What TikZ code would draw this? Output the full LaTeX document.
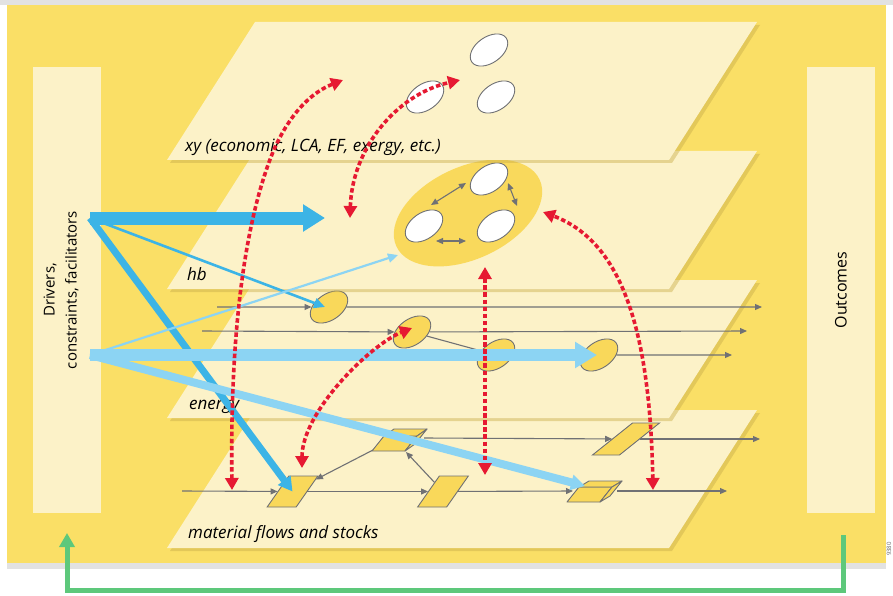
\documentclass[tikz,border=0pt]{standalone}
\usepackage{fontspec}
\setmainfont{Open Sans}
\usetikzlibrary{arrows.meta,shapes.geometric,calc}
\definecolor{bgyellow}{HTML}{FADF66}
\definecolor{cream}{HTML}{FCF2C8}
\definecolor{framegray}{HTML}{E2E2E2}
\definecolor{plateshadow}{HTML}{C9AE4A}
\definecolor{edgegray}{HTML}{707174}
\definecolor{ovalyel}{HTML}{F9D85A}
\definecolor{hbyel}{HTML}{F9D95C}
\definecolor{bluec}{HTML}{3CB4E6}
\definecolor{lblue}{HTML}{8CD4F3}
\definecolor{redc}{HTML}{E61932}
\definecolor{greenc}{HTML}{5DC87B}
\newcommand{\drawplate}[1]{%
  \fill[plateshadow,opacity=0.45] (258,{#1+3}) -- (760,{#1+3}) -- (672,{#1+141}) -- (170,{#1+141}) -- cycle;
  \fill[cream] (255,#1) -- (757,#1) -- (669,{#1+138}) -- (167,{#1+138}) -- cycle;}
\begin{document}
\begin{tikzpicture}[x=1pt,y=-1pt,
  oval/.style={ellipse, draw=edgegray, line width=0.9pt, minimum width=42pt, minimum height=26pt, inner sep=0pt, rotate=35},
  woval/.style={oval, fill=white},
  yoval/.style={oval, fill=ovalyel},
  mpar/.style={draw=edgegray, fill=ovalyel, line width=0.9pt, minimum width=29pt, minimum height=31pt, inner sep=0pt, xslant=0.7},
  boxface/.style={draw=edgegray, fill=ovalyel, line width=0.9pt, line join=round},
  garr/.style={draw=edgegray, line width=1.1pt, -{Triangle[length=7pt,width=6pt]}},
  gdbl/.style={draw=edgegray, line width=1.1pt, {Triangle[length=7pt,width=6pt]}-{Triangle[length=7pt,width=6pt]}},
  gline/.style={draw=edgegray, line width=1.1pt},
  redarr/.style={draw=redc, line width=3.6pt, dash pattern=on 4.5pt off 2.6pt, {Triangle[length=12pt,width=13pt]}-{Triangle[length=12pt,width=13pt]}},
  lbl/.style={font=\fontsize{17}{19}\selectfont\itshape, anchor=base west, inner sep=0pt},
  bar/.style={fill=cream, minimum width=68pt, minimum height=446pt, inner sep=0pt},
  bigdark/.style={draw=bluec, line width=13pt, -{Triangle[length=22pt,width=26pt]}},
  middark/.style={draw=bluec, line width=7pt, -{Triangle[length=14pt,width=15pt]}},
  thindark/.style={draw=bluec, line width=2.6pt, -{Triangle[length=11pt,width=10pt]}},
  biglight/.style={draw=lblue, line width=12pt, -{Triangle[length=22pt,width=25pt]}},
  midlight/.style={draw=lblue, line width=8pt, -{Triangle[length=14pt,width=15pt]}},
  thinlight/.style={draw=lblue, line width=2.2pt, -{Triangle[length=10pt,width=9pt]}},
  greenarr/.style={draw=greenc, line width=5pt, line join=miter, -{Triangle[length=14pt,width=15pt]}}
]
\useasboundingbox (0,0) rectangle (893,596);
\fill[white] (0,0) rectangle (893,596);
\fill[framegray] (0,0) rectangle (893,5);
\fill[framegray] (7,562) rectangle (886,569);
\fill[bgyellow] (7,5) rectangle (886,563);

% side bars
\node[bar] (lbar) at (67,290) {};
\node[bar] (rbar) at (841,290) {};
\node[rotate=90, align=center, font=\fontsize{15}{22}\selectfont, inner sep=0pt] (drv) at (61,290) {Drivers,\\constraints, facilitators};
\node[rotate=90, font=\fontsize{16}{18}\selectfont, inner sep=0pt] (outc) at (841,290) {Outcomes};
\node[rotate=90, font=\fontsize{6}{6}\selectfont, text=black!60, inner sep=0pt] (code) at (889,549) {9380};

% ---------- material layer ----------
\drawplate{410}
\node[lbl] (lmat) at (188,538) {material flows and stocks};
\node[mpar] (p1) at (292.5,491.5) {};
\node[mpar] (p2) at (443,491.5) {};
\node[mpar, minimum height=32pt, minimum width=27pt, xslant=0.55] (p4) at (626,439) {};
\coordinate (ml0) at (182,491);
\coordinate (b2in) at (573,491);
\coordinate (b2out) at (617,491);
\coordinate (ml9) at (727,491);
\coordinate (b1out) at (424,438);
\coordinate (mu9) at (760,439);
\coordinate (b1sw) at (373,450);
\coordinate (b1se) at (406,452);
\draw[garr] (ml0) -- (p1);
\draw[garr] (p1) -- (p2);
\draw[garr] (p2) -- (b2in);
\draw[garr] (b2out) -- (ml9);
\draw[garr] (b1out) -- (p4);
\draw[garr] (p4) -- (mu9);
\draw[garr] (b1sw) -- (p1);
\draw[garr] (p2) -- (b1se);
% box 1
\path[boxface] (372,451) -- (405,451) -- (417,436) -- (384,436) -- cycle;
\path[boxface] (384,436) -- (417,436) -- (427,429) -- (394,429) -- cycle;
\path[boxface] (405,451) -- (417,436) -- (427,429) -- (415,444) -- cycle;
\coordinate (b1) at (398,440);
% box 2
\path[boxface] (567,502) -- (600,502) -- (612,487) -- (579,487) -- cycle;
\path[boxface] (579,487) -- (612,487) -- (622,481) -- (589,481) -- cycle;
\path[boxface] (600,502) -- (612,487) -- (622,481) -- (610,496) -- cycle;
\coordinate (b2) at (594,492);
\coordinate (b2tip) at (585,486);

% ---------- energy layer ----------
\drawplate{280}
\node[lbl] (lene) at (189,409) {energy};
\node[yoval] (e1) at (329,307) {};
\node[yoval] (e2) at (412,332) {};
\node[yoval] (e3) at (496,355) {};
\node[yoval] (e4) at (599,355) {};
\coordinate (el1s) at (217,307);
\coordinate (el1e) at (762,307);
\coordinate (el2s) at (202,331);
\coordinate (el2e) at (747,331);
\coordinate (el3e) at (732,355);
\draw[garr] (el1s) -- (e1);
\draw[garr] (e1) -- (el1e);
\draw[garr] (el2s) -- (e2);
\draw[garr] (e2) -- (el2e);
\draw[gline] (e2) -- (e3);
\draw[garr] (e4) -- (el3e);

% ---------- hb layer ----------
\drawplate{151}
\node[lbl] (lhb) at (187,280) {hb};
\node[fill=hbyel, ellipse, minimum width=158pt, minimum height=92pt, rotate=25, inner sep=0pt] (hbE) at (468,213) {};
\node[woval] (h1) at (489,179) {};
\node[woval] (h2) at (424,226) {};
\node[woval] (h3) at (496,226) {};
\coordinate (ha1) at (431,205);
\coordinate (ha2) at (466,183);
\coordinate (ha3) at (508,183);
\coordinate (ha4) at (517,206);
\coordinate (ha5) at (436,241);
\coordinate (ha6) at (466,241);
\draw[gdbl] (ha1) -- (ha2);
\draw[gdbl] (ha3) -- (ha4);
\draw[gdbl] (ha5) -- (ha6);
\coordinate (hbin) at (398,255);

% ---------- xy layer ----------
\drawplate{22}
\node[lbl] (lxy) at (185,152) {xy (economic, LCA, EF, exergy, etc.)};
\node[woval] (x1) at (489,50) {};
\node[woval] (x2) at (496,97) {};
\node[woval] (x3) at (425,97) {};

% ---------- blue arrows ----------
\coordinate (D1) at (90,218);
\coordinate (D2) at (90,355);
\coordinate (bt) at (325,218);
\draw[bigdark] (D1) -- (bt);
\draw[thindark] (D1) -- ([xshift=-4pt]e1.center);
\draw[middark] (D1) -- (p1.center);
\draw[thinlight] (D2) -- (hbin);
\draw[midlight] (D2) -- (b2tip);
\draw[biglight] (D2) -- ([xshift=-2pt]e4.center);

% ---------- red dashed arrows ----------
\coordinate (rA1) at (232,490);
\coordinate (rAm) at (268,165);
\coordinate (rA2) at (343,80);
\coordinate (rB1) at (350,218);
\coordinate (rB2) at (460,80);
\coordinate (rC1) at (653,490);
\coordinate (rC2) at (543,212);
\coordinate (rD1) at (485,267);
\coordinate (rD2) at (485,475);
\coordinate (rE1) at (302,468);
\coordinate (rE2) at (412,328);
\draw[redarr] (rA1) .. controls (230,330) and (245,230) .. (rAm) .. controls (282,125) and (305,95) .. (rA2);
\draw[redarr] (rB1) .. controls (352,150) and (395,95) .. (rB2);
\draw[redarr] (rC1) .. controls (650,330) and (622,242) .. (rC2);
\draw[redarr] (rD1) -- (rD2);
\draw[redarr] (rE1) .. controls (302,412) and (370,345) .. (rE2);

% ---------- green feedback arrow ----------
\coordinate (gS) at (843,535);
\coordinate (gB) at (455,590);
\coordinate (gE) at (67,533);
\draw[greenarr] (gS) |- (gB) -| (gE);
\end{tikzpicture}
\end{document}
